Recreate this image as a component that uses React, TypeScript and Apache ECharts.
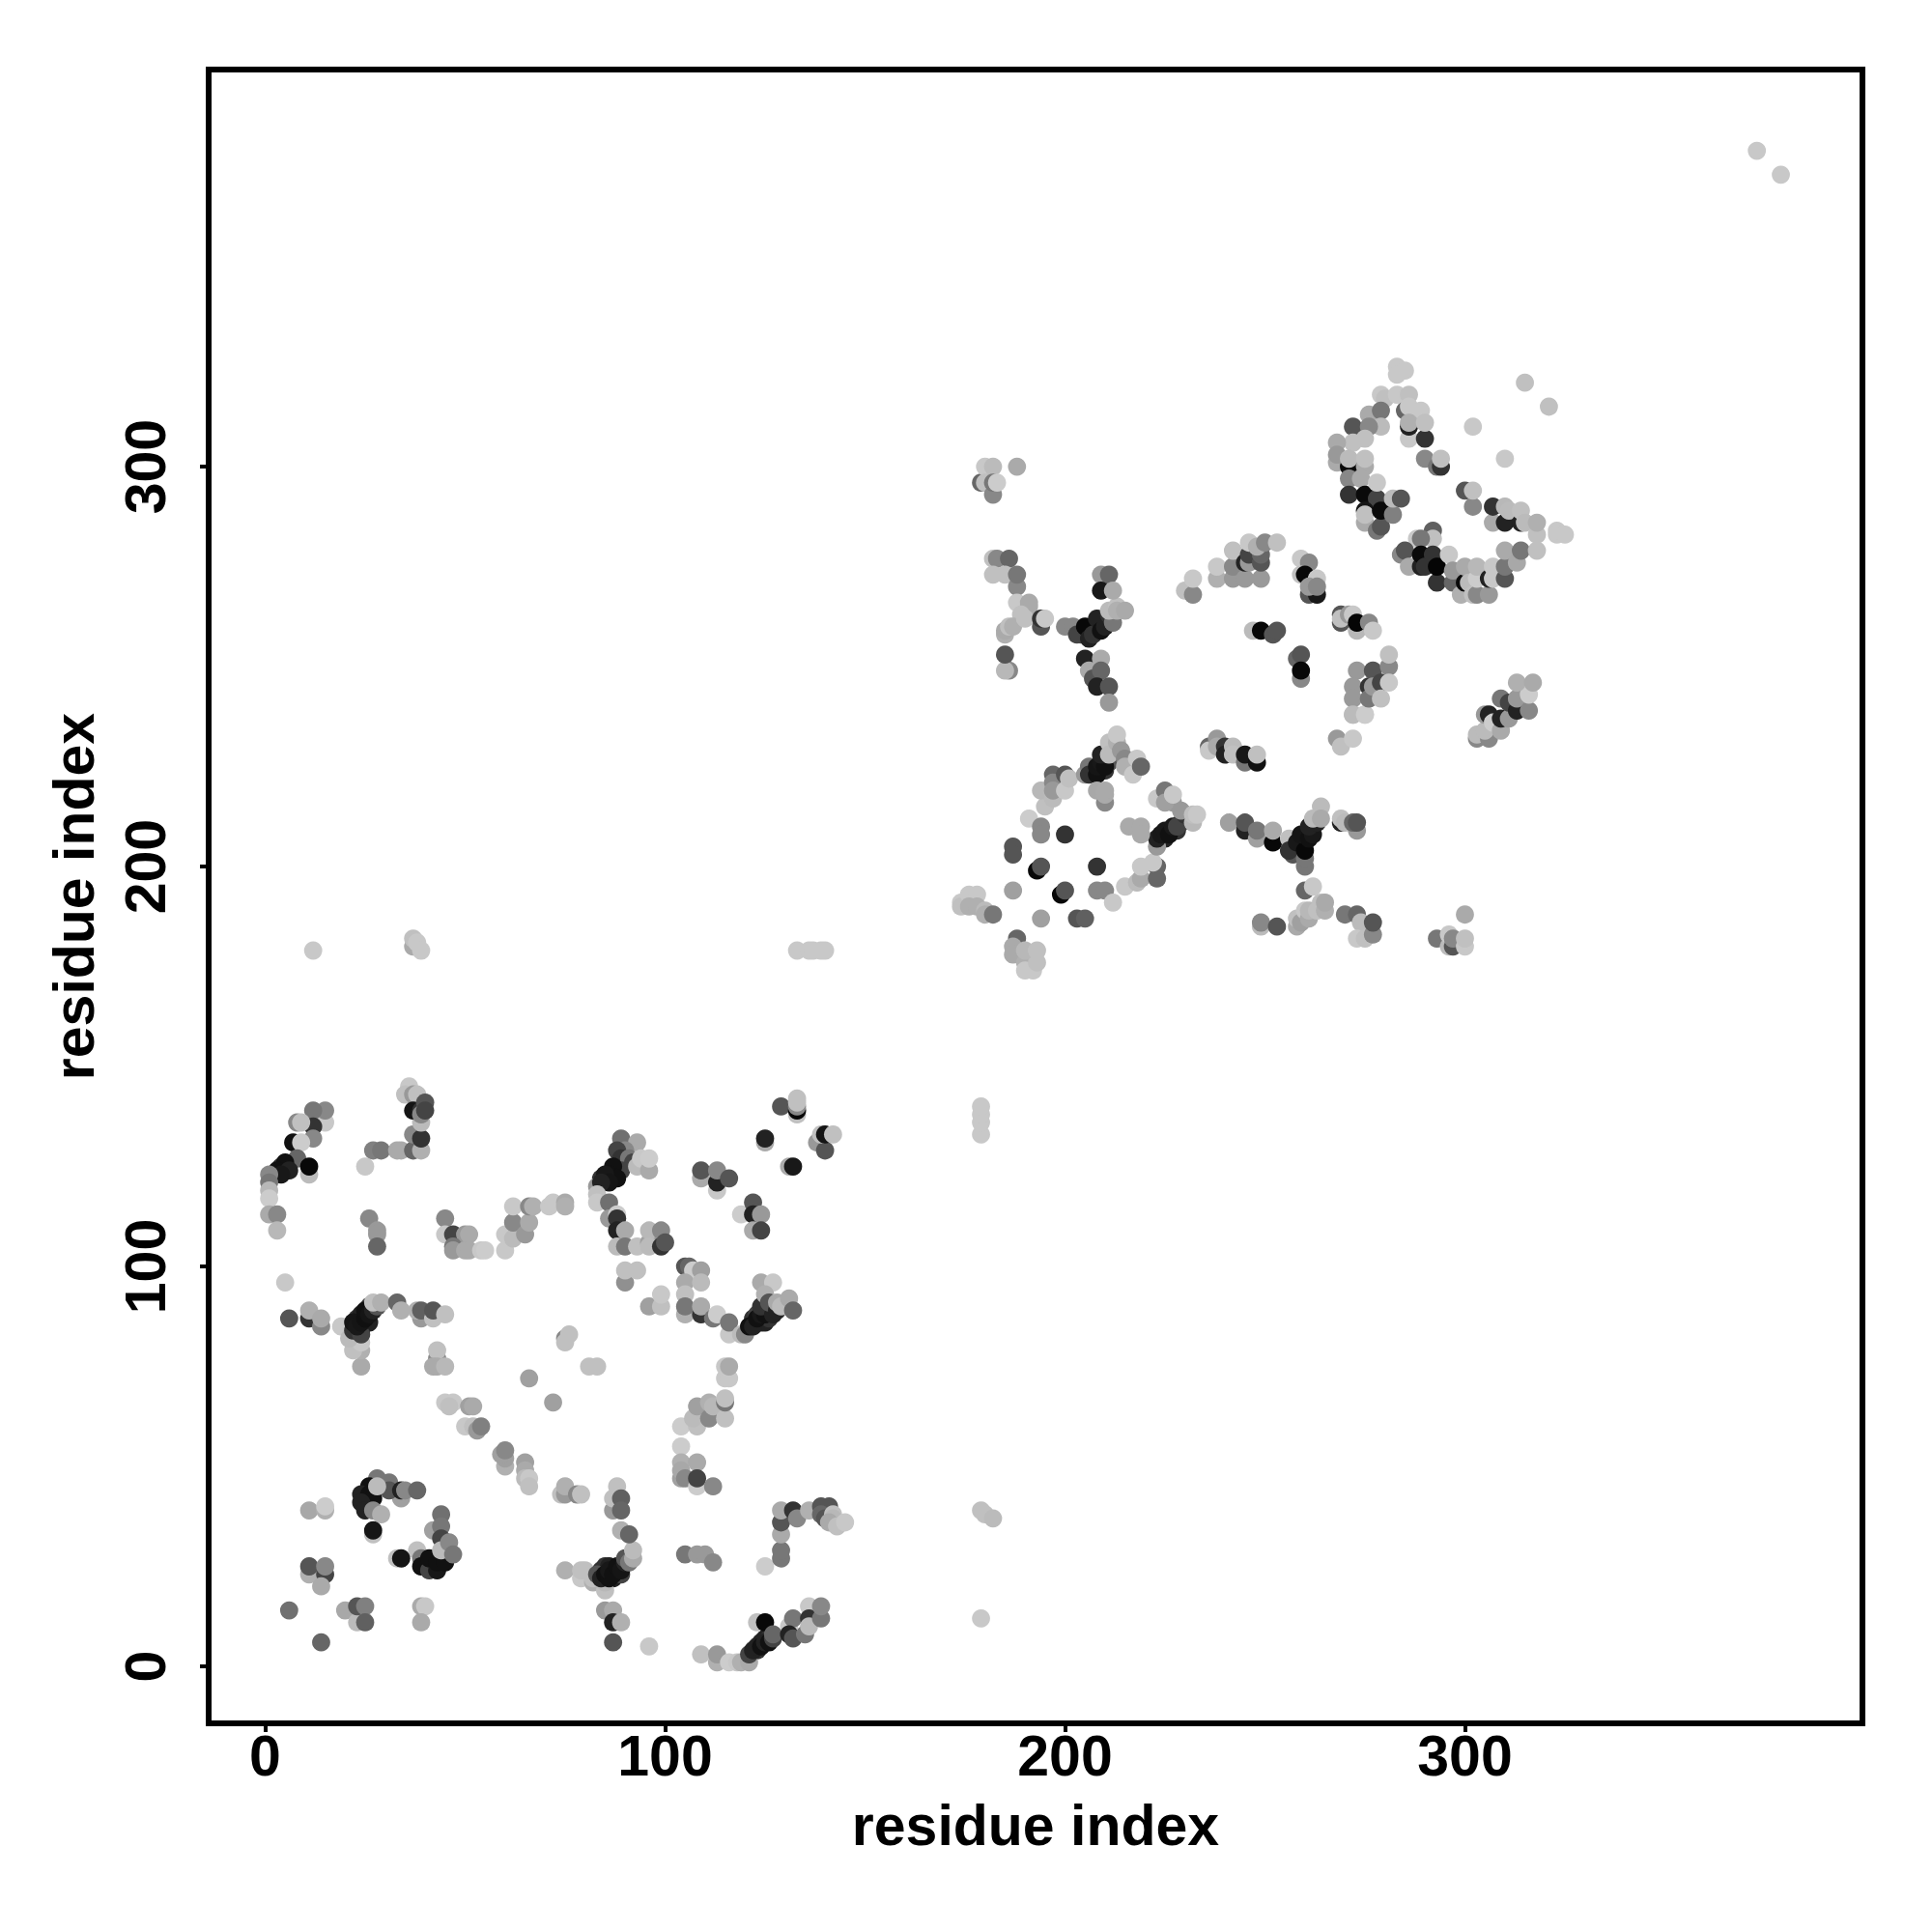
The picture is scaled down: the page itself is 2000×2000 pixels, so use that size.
import React, { useEffect, useRef } from "react";
import * as echarts from "echarts";

type P = [number, number, number];

const xTicks = [0, 100, 200, 300];
const yTicks = [0, 100, 200, 300];
const xName = "residue index";
const yName = "residue index";

const underChains: P[] = [[23,87,0x33],[24,88,0x22],[26,90,0x44],[24,84,0x22],[26,86,0x22],[84,24,0x33],[85,25,0x33],[86,25,0x22],[87,22,0x22],[88,23,0x22],[88,24,0x22],[89,23,0x44],[123,4,0x33],[124,6,0x22],[125,7,0x22],[126,7,0x33],[84,122,0x33],[85,122,0x22],[87,123,0x22],[88,124,0x33],[122,87,0x33],[123,88,0x44],[124,86,0x22],[125,86,0x22],[126,87,0x33],[4,125,0x33],[5,124,0x22],[224,207,0x33],[225,207,0x22],[226,209,0x22],[228,209,0x33],[229,211,0x44],[207,224,0x33],[209,224,0x22],[210,224,0x33],[211,226,0x55],[257,204,0x33],[258,205,0x22],[260,206,0x22],[261,208,0x33],[262,210,0x44],[204,258,0x44],[206,259,0x33],[208,260,0x22],[210,262,0x33],[290,277,0x33],[292,276,0x22]];
const loopA: P[] = [[11,39,0xa8],[15,39,0xb0],[15,40,0xcc],[28,47,0x77],[31,46,0x77],[26,45,0x11],[24,43,0x22],[26,43,0x11],[27,42,0x11],[24,41,0x22],[25,39,0x22],[27,39,0x88],[29,38,0xb0],[34,42,0xa0],[31,44,0x55],[28,45,0xbb],[34,44,0x22],[35,44,0x88],[38,44,0x66],[27,33,0xc0],[27,34,0x15],[42,34,0xa0],[44,38,0x70],[44,35,0x77],[44,32,0x44],[38,29,0xc0],[33,27,0xc0],[34,27,0x15],[39,27,0x77],[39,25,0x11],[41,24,0x44],[41,27,0x11],[43,24,0x18],[43,26,0x11],[45,26,0x11],[44,29,0xbb],[46,31,0x88],[47,28,0x77],[11,23,0xb0],[11,25,0x55],[15,23,0x44],[15,25,0x88],[14,20,0xaa],[6,14,0x70],[20,14,0xa8],[23,11,0xbb],[23,15,0x55],[25,15,0x80],[25,11,0x60],[39,15,0xaa],[40,15,0xc8],[39,11,0xaa],[14,6,0x66]];
const chainA: P[] = [[5,96,0xc8],[11,87,0x33],[6,87,0x55],[11,89,0xb0],[14,85,0x88],[14,87,0xaa],[19,85,0xc8],[24,75,0xaa],[24,79,0xb0],[22,79,0xc0],[24,81,0xc8],[21,82,0xbb],[22,84,0x33],[24,83,0x44],[22,86,0x15],[23,85,0x18],[24,86,0x15],[25,87,0x10],[25,89,0x11],[26,88,0x15],[27,89,0x22],[28,90,0x55],[27,91,0xc0],[29,91,0xb0],[33,91,0x66],[34,89,0xb0],[39,87,0x99],[38,89,0xb0],[39,89,0x60],[42,87,0xc0],[42,89,0x55],[45,88,0xc0],[43,77,0x88],[43,79,0xc0],[42,75,0xaa],[43,75,0xaa],[45,75,0xb8]];
const diagA: P[] = [[75,82,0x88],[75,81,0xc0],[76,83,0xc0],[81,75,0xc0],[83,75,0xc0],[66,72,0xa0],[72,66,0xa0],[45,66,0xc8],[47,66,0xc8],[46,65,0xc0],[51,65,0xa0],[52,65,0xaa],[50,60,0xc8],[52,60,0xc0],[53,59,0x99],[54,60,0x80],[60,50,0xb0],[60,52,0xa0],[59,53,0xa0],[60,54,0x88],[65,51,0xa0],[65,49,0xaa],[65,47,0xbb],[66,47,0xc8],[66,45,0xc0],[74,43,0xc0],[75,43,0x99],[75,45,0xb0],[78,43,0x88],[79,43,0xc0]];
const chainB: P[] = [[75,24,0xb0],[79,22,0xc8],[79,24,0xc0],[80,24,0xc0],[82,21,0xb0],[82,22,0xc0],[85,19,0xc0],[85,21,0xb8],[83,23,0x55],[84,22,0x22],[85,23,0x11],[86,22,0x11],[86,24,0x18],[87,23,0x11],[88,25,0x11],[89,24,0x15],[90,26,0x22],[90,27,0x55],[91,26,0x77],[92,27,0xaa],[92,29,0xbb],[87,39,0x99],[88,45,0xc0],[87,42,0xc0],[89,42,0x60],[89,39,0x66],[89,34,0xb0],[91,33,0x66],[85,14,0x99],[87,14,0xaa],[87,11,0x22],[89,11,0xb0],[87,6,0x55],[96,5,0xc8]];
const chainC: P[] = [[109,3,0xc0],[113,1,0xb0],[113,3,0x99],[116,1,0xcc],[118,1,0xc8],[119,1,0xb0],[121,1,0xaa],[121,3,0x44],[122,4,0x22],[123,5,0x22],[123,11,0xc0],[125,11,0x08],[124,5,0x11],[125,6,0x22],[126,6,0x11],[127,7,0x44],[127,8,0x66],[131,10,0xc8],[132,12,0x77],[131,8,0x22],[132,7,0x55],[135,8,0x77],[136,15,0xc8],[136,12,0x33],[136,10,0xbb],[139,12,0x77],[139,15,0x88]];
const armC: P[] = [[125,25,0xcc],[129,27,0x77],[129,29,0x77],[129,33,0xaa],[129,36,0x55],[129,39,0xaa],[132,39,0x33],[133,37,0x88],[136,39,0xb0],[139,40,0x55],[141,40,0x55],[139,38,0x66],[140,37,0x55],[142,38,0xc0],[142,37,0xb8],[141,36,0xaa],[143,35,0xc0],[145,36,0xc8],[105,28,0x77],[108,28,0x99],[110,28,0x99],[112,26,0x88],[179,12,0xc8],[179,39,0xc0],[180,38,0xc0],[182,37,0xbb]];
const stemD: P[] = [[104,55,0xcc],[104,51,0xb0],[104,47,0xa0],[104,49,0xa8],[105,47,0x88],[108,51,0xaa],[108,45,0xcc],[108,47,0x44],[112,45,0x88],[104,60,0xcc],[108,60,0xc0],[107,62,0xbb],[108,65,0xa0],[111,62,0x88],[111,66,0xb0],[112,65,0xb8],[115,62,0xc0],[115,66,0x77],[115,67,0xc0],[115,72,0xc8],[116,72,0xc8],[115,75,0xc8],[116,75,0xaa],[90,96,0x90],[90,99,0xc0],[93,99,0xc0],[96,90,0xa0],[99,90,0xc0],[99,93,0xc8]];
const chainE: P[] = [[89,132,0x70],[93,131,0xaa],[90,129,0x88],[88,129,0x44],[89,127,0x33],[91,127,0x77],[92,126,0x44],[89,124,0x44],[87,125,0x11],[86,123,0x11],[88,122,0x11],[85,123,0x18],[83,120,0x99],[86,121,0x15],[84,121,0x22],[93,125,0xbb],[94,127,0xc8],[96,124,0xaa],[96,127,0xcc],[83,118,0xc0],[83,116,0xc8],[86,116,0x70],[86,112,0x99],[88,113,0xcc],[88,112,0x33],[88,109,0x22],[90,109,0xaa],[88,105,0xbb],[90,105,0x77],[93,105,0xc0],[96,106,0xa0],[96,109,0xb8],[96,105,0xbb],[99,109,0x88],[99,105,0x33],[100,106,0x55]];
const chainF: P[] = [[105,100,0x55],[106,100,0x66],[107,99,0xcc],[109,99,0xa0],[105,96,0xaa],[109,96,0xbb],[105,93,0xc0],[105,88,0xb0],[105,90,0x77],[109,88,0x33],[109,90,0xaa],[112,87,0x77],[113,88,0xcc],[116,83,0xc8],[116,86,0x77],[119,83,0xbb],[120,83,0x88],[121,85,0x11],[122,85,0x22],[123,87,0x11],[124,88,0x18],[125,88,0x11],[124,90,0x33],[127,88,0x22],[124,96,0xaa],[127,96,0xc8],[125,93,0xb0],[126,91,0x55],[128,89,0x22],[128,91,0xaa],[129,90,0xbb],[131,92,0xaa],[132,89,0x66]];
const bitsG: P[] = [[109,122,0xaa],[109,124,0x55],[113,119,0xc8],[113,121,0x22],[113,124,0x88],[116,122,0x55],[119,113,0xcc],[122,116,0x55],[122,113,0x22],[124,113,0x99],[122,109,0xaa],[124,109,0x44],[125,131,0xaa],[125,132,0x22],[131,125,0xaa],[132,125,0x18],[129,140,0x55],[133,138,0xc0],[133,139,0x08],[133,140,0x88],[133,141,0xc0],[133,142,0xc0],[138,131,0x99],[140,129,0x55],[139,133,0xc0],[140,133,0x15],[142,133,0xc0]];
const pairsH: P[] = [[12,179,0xc8],[37,180,0xaa],[37,182,0xc0],[38,181,0xc8],[39,179,0xc8],[133,179,0xc8],[136,179,0xc8],[137,179,0xc8],[139,179,0xc8],[140,179,0xc8],[179,133,0xc8],[179,136,0xc8],[179,138,0xc8],[179,140,0xc8],[373,379,0xc8],[379,373,0xc8]];
const chainI: P[] = [[15,136,0xc8],[15,139,0x88],[12,139,0x77],[12,135,0x33],[8,136,0x88],[9,136,0xc0],[12,132,0x88],[7,131,0x11],[9,131,0xcc],[8,127,0x66],[5,126,0x11],[3,124,0x11],[6,124,0x22],[4,123,0x18],[11,123,0xbb],[11,125,0x08],[1,123,0x88],[1,121,0x77],[1,119,0xb8],[1,117,0xcc],[1,113,0xaa],[3,113,0x88],[3,109,0xb8]];
const chainJ: P[] = [[25,125,0xc8],[27,129,0x80],[29,129,0x77],[33,129,0xaa],[34,129,0xaa],[37,129,0x66],[39,129,0xb0],[37,133,0x88],[39,132,0x33],[39,136,0xbb],[36,145,0xc8],[35,143,0xc0],[37,143,0x99],[38,143,0xc0],[37,139,0x15],[39,139,0x33],[39,138,0x88],[40,141,0x55],[40,139,0x44]];
const rowK: P[] = [[26,112,0x88],[28,109,0x99],[28,108,0x99],[28,105,0x66],[45,112,0x88],[45,108,0xc8],[47,108,0x44],[50,108,0x99],[51,108,0xaa],[47,105,0x77],[47,104,0x99],[50,104,0xaa],[51,104,0xaa],[54,104,0xc8],[55,104,0xcc],[60,104,0xc8],[60,108,0xc8],[62,107,0xbb],[62,111,0x88],[65,108,0x99],[66,111,0xaa],[62,115,0xc8],[66,115,0x88],[67,115,0xb0],[71,115,0xc8],[72,116,0xc8],[75,116,0xaa],[75,115,0xb0]];
const clusterL: P[] = [[174,191,0xc8],[174,190,0xc0],[176,193,0xc8],[178,193,0xc8],[176,190,0xb0],[178,190,0xb0],[180,189,0xbb],[180,188,0xb0],[182,188,0x77],[187,194,0xa0],[194,187,0xa0],[203,187,0x55],[205,187,0x60],[188,182,0x66],[187,180,0xaa],[187,178,0xaa],[190,176,0xb0],[190,174,0xc8],[192,174,0xc8],[193,176,0xc0],[190,179,0xb8],[193,179,0xc0],[187,205,0x55],[187,203,0x55],[191,212,0xcc],[194,210,0x88],[194,208,0x88],[200,208,0x33],[193,199,0x08],[194,200,0x55],[208,200,0x33],[199,193,0x08],[200,194,0x55],[208,194,0x88],[210,194,0x88],[212,191,0xc8]];
const ringL: P[] = [[215,195,0xc8],[218,196,0xbb],[219,197,0xaa],[219,200,0xc8],[223,200,0x66],[223,197,0x66],[222,201,0xc8],[223,205,0x99],[223,207,0x22],[224,208,0x18],[225,209,0x18],[226,208,0x11],[227,210,0x18],[228,210,0x44],[230,213,0x33],[229,214,0x99],[227,216,0x99],[232,211,0xb8],[232,213,0xc0],[233,213,0xc8],[223,217,0xc8],[225,219,0x77],[225,216,0xa0],[227,218,0xc8],[216,210,0xaa],[219,210,0xaa],[219,208,0xaa],[195,215,0xc0],[194,219,0xb8],[197,223,0x66],[197,221,0x88],[197,217,0xbb],[197,219,0x99],[200,223,0x55],[200,219,0xc8],[201,222,0xc0],[205,223,0x99],[206,225,0x77],[206,223,0x33],[208,223,0x11],[208,225,0x15],[209,226,0x18],[210,225,0x11],[209,228,0x22],[211,231,0xc0],[211,228,0xbb],[213,231,0xb0],[213,233,0xc8],[214,229,0x99],[215,227,0x88],[215,225,0xb0],[217,223,0xc8],[218,227,0xc8],[219,225,0x66],[210,216,0x88],[208,219,0xa8],[210,218,0xaa],[210,219,0xaa]];
const crossM: P[] = [[241,211,0xa0],[245,209,0x22],[245,211,0x55],[248,207,0xa0],[248,209,0x77],[252,206,0x08],[252,209,0xaa],[256,207,0xc0],[257,203,0x55],[256,204,0x33],[260,200,0x77],[260,202,0x77],[258,206,0x18],[260,204,0x08],[259,208,0x15],[261,207,0x11],[262,208,0x18],[261,210,0x22],[263,211,0x22],[262,212,0xbb],[264,215,0xbb],[264,212,0xaa],[269,211,0x22],[269,212,0xc0],[270,211,0xbb],[273,209,0x99],[272,211,0x66],[273,211,0x55],[260,194,0x66],[262,195,0xc8],[249,185,0xbb],[249,186,0x88],[253,185,0x55],[258,185,0xaa],[258,187,0xc0],[259,186,0xa0],[260,189,0xc8],[261,187,0xaa],[261,189,0xb8],[263,189,0xc0],[264,191,0xc0],[265,189,0xb0],[265,191,0xaa],[270,188,0x77],[273,188,0x66],[274,186,0xbb],[273,182,0xc8],[275,182,0xc0],[277,183,0x88],[277,186,0x55],[293,182,0x77],[296,180,0xbb],[296,183,0xc8],[297,180,0x55],[297,182,0x88],[300,180,0xc8],[300,182,0xc0],[300,188,0xaa]];
const arcN: P[] = [[236,230,0x66],[236,229,0xc8],[238,232,0x99],[238,230,0xaa],[240,230,0x33],[240,228,0x22],[242,230,0xbb],[242,228,0xc0],[245,226,0x77],[245,228,0x18],[248,226,0x11],[248,228,0xc0],[268,232,0x99],[269,230,0xc0],[272,232,0xc8],[272,238,0xbb],[275,238,0xcc]];
const forkO: P[] = [[179,296,0x66],[180,300,0xc8],[182,300,0xbb],[180,296,0xc0],[182,293,0x88],[182,296,0x77],[183,296,0xcc],[188,300,0xaa],[182,277,0xc0],[183,277,0x88],[186,277,0x66],[182,273,0xc0],[185,273,0xc0],[188,270,0x88],[188,273,0x77],[188,266,0xc8],[191,265,0xaa],[191,266,0xaa],[189,263,0xc0],[185,258,0xb0],[185,259,0xaa],[186,260,0xc0],[187,260,0xb0],[190,262,0xc0],[194,260,0x55],[194,262,0x33],[195,262,0xc8],[186,249,0x88],[185,249,0xb8],[185,253,0x55]];
const forkP: P[] = [[200,260,0x88],[202,260,0x88],[203,258,0x44],[205,260,0x08],[206,257,0x22],[207,258,0x33],[208,262,0x22],[209,259,0x11],[210,260,0x22],[211,263,0x33],[212,261,0x77],[211,264,0xbb],[213,265,0xc0],[213,264,0xb0],[215,264,0xaa],[205,252,0x22],[209,252,0xaa],[206,249,0xaa],[207,247,0x55],[209,249,0x66],[208,245,0x22],[211,245,0x55],[211,241,0x99],[209,273,0x99],[211,273,0x66],[209,269,0x18],[212,269,0xaa]];
const topQ: P[] = [[230,269,0xc0],[232,268,0x88],[232,272,0xc8],[238,272,0xb0],[238,275,0xc8],[242,272,0x99],[242,275,0x88],[242,279,0xc0],[245,272,0x99],[245,276,0x22],[246,276,0x99],[246,278,0x44],[246,281,0xc8],[249,272,0x99],[249,276,0x55],[249,278,0x66],[248,280,0xb0],[250,281,0x88],[253,281,0xc0]];
const coreR: P[] = [[247,259,0xbb],[249,259,0x08],[252,258,0x55],[253,259,0x55],[258,252,0x66],[259,253,0x55],[259,247,0x88],[259,249,0x08],[259,277,0xc8],[261,276,0x88],[259,273,0xc0],[260,273,0x08],[263,272,0xc8],[261,268,0x55],[263,268,0x18],[261,270,0x99],[263,270,0x88],[269,263,0x55],[269,261,0x55],[269,262,0xc0],[271,263,0x99],[272,263,0xc8],[273,259,0xb8],[273,261,0x05],[276,261,0x88],[277,259,0xc8]];
const blockS: P[] = [[273,249,0x99],[272,245,0x99],[272,242,0x99],[272,238,0xbb],[275,238,0xcc],[276,245,0x33],[276,242,0x77],[277,249,0x55],[277,245,0x99],[279,246,0x44],[279,242,0xc0],[281,250,0x88],[281,253,0xc0],[281,246,0xc8]];
const blockT: P[] = [[303,232,0x88],[303,233,0xbb],[306,232,0x88],[305,234,0xbb],[305,238,0x99],[306,238,0x22],[307,236,0xcc],[309,234,0xaa],[309,237,0x22],[309,242,0x77],[311,237,0x99],[311,241,0x44],[313,239,0x22],[313,242,0x99],[316,239,0x88],[316,243,0xcc],[313,246,0xb0],[317,246,0xaa]];
const crescentU: P[] = [[283,325,0xc8],[283,323,0xc8],[285,324,0xc8],[315,321,0xc0],[321,315,0xc0],[302,310,0xc8],[310,302,0xc8],[279,318,0xc8],[280,317,0xc0],[283,318,0xc8],[286,318,0xc0],[285,314,0x66],[286,315,0xc8],[289,314,0xc8],[276,313,0xaa],[279,314,0x77],[279,310,0xbb],[272,310,0x55],[276,310,0x88],[272,306,0xc0],[275,307,0xc0],[268,306,0xaa],[286,307,0xc8],[286,310,0x22],[286,311,0xb0],[290,307,0x33],[290,311,0xc0],[290,302,0x88],[293,300,0x77],[294,300,0x33],[294,302,0xc0],[268,301,0xaa],[268,303,0x99],[271,300,0x0a],[271,302,0xbb],[275,300,0xaa],[275,302,0xc0],[271,297,0x88],[274,297,0xaa],[271,293,0x33],[275,293,0x0a],[278,292,0x44],[278,296,0xc8],[275,286,0xaa],[275,289,0x15],[275,288,0xc0],[278,284,0x77],[279,285,0x55],[279,289,0x0a],[282,288,0x80],[282,292,0xbb],[284,292,0x55]];
const crescentV: P[] = [[292,284,0x60],[292,282,0xc0],[288,282,0xc8],[289,282,0x77],[284,278,0x88],[285,279,0x55],[286,275,0xaa],[289,275,0x22],[289,278,0x0a],[290,275,0x33],[293,271,0x33],[292,278,0x33],[293,275,0x05],[296,278,0xc8],[297,271,0x66],[297,274,0x99],[299,268,0xb0],[300,271,0x0a],[300,275,0xaa],[301,271,0xbb],[302,268,0xc0],[303,268,0x88],[303,272,0xcc],[303,275,0xb8],[306,268,0x99],[306,272,0x22],[307,272,0xc8],[307,275,0xc8],[310,272,0x55],[310,275,0x77],[310,279,0xaa],[313,276,0xa8],[314,279,0x77],[318,279,0xc0],[300,294,0x55],[302,290,0x88],[302,294,0xc0],[307,286,0xaa],[307,290,0x33],[310,286,0x22],[310,290,0xb8],[311,289,0xbb],[314,286,0x22],[314,289,0xc0],[315,286,0xbb],[318,283,0xc0],[318,286,0xb0],[323,284,0xc8],[323,283,0xc8],[325,283,0xc8]];

const allPoints: P[] = [
  ...underChains,
  ...loopA, ...chainA, ...diagA, ...chainB, ...chainC, ...armC, ...stemD, ...chainE,
  ...chainF, ...bitsG, ...pairsH, ...chainI, ...chainJ, ...rowK, ...clusterL, ...ringL,
  ...crossM, ...arcN, ...forkO, ...forkP, ...topQ, ...coreR, ...blockS, ...blockT,
  ...crescentU, ...crescentV,
];

const FONT = "Liberation Sans";

export default function App() {
  const ref = useRef<HTMLDivElement>(null);
  useEffect(() => {
    const chart = echarts.init(ref.current!, null, { renderer: "svg" });
    const axisCommon = {
      type: "value" as const,
      splitLine: { show: false },
      axisLine: { show: false, onZero: false },
      axisTick: { show: true, length: 9, lineStyle: { color: "#000", width: 4 } },
      nameLocation: "middle" as const,
      nameTextStyle: { fontFamily: FONT, fontWeight: "bold" as const, fontSize: 59, color: "#000" },
    };
    chart.setOption({
      animation: false,
      backgroundColor: "#fff",
      grid: { left: 216, top: 72, width: 1712, height: 1712, show: true, borderColor: "#000", borderWidth: 6, backgroundColor: "transparent" },
      xAxis: {
        ...axisCommon,
        min: -14.13,
        max: 399.4,
        name: xName,
        nameGap: 76,
        axisTick: { ...axisCommon.axisTick, customValues: xTicks },
        axisLabel: { customValues: xTicks, fontFamily: FONT, fontWeight: "bold", fontSize: 59, color: "#000", margin: 4 },
      },
      yAxis: {
        ...axisCommon,
        min: -14.25,
        max: 399.3,
        name: yName,
        nameGap: 110,
        axisTick: { ...axisCommon.axisTick, customValues: yTicks },
        axisLabel: { customValues: yTicks, rotate: 90, fontFamily: FONT, fontWeight: "bold", fontSize: 59, color: "#000", margin: 65, align: "center", verticalAlign: "middle" },
      },
      series: [
        {
          type: "scatter",
          symbol: "circle",
          symbolSize: 18.8,
          silent: true,
          data: allPoints.map((p) => [p[0], p[1], p[2]]),
          itemStyle: {
            opacity: 1,
            color: (params: any) => {
              const g = params.data[2];
              return `rgb(${g},${g},${g})`;
            },
          },
        },
      ],
    });
    return () => chart.dispose();
  }, []);
  return <div ref={ref} style={{ position: "absolute", left: 0, top: 0, width: 2000, height: 2000 }} />;
}
